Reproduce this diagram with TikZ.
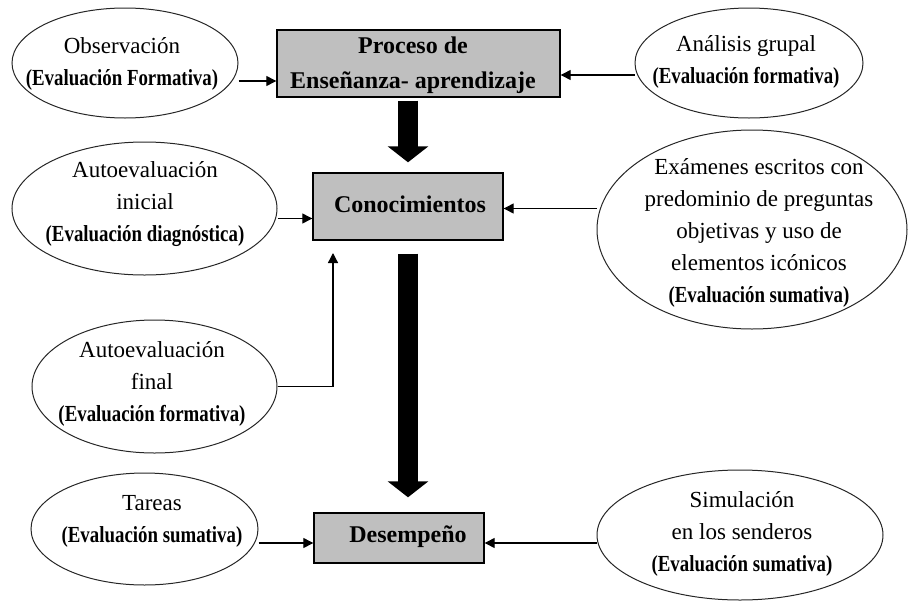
\documentclass[tikz,border=0pt]{standalone}
\usepackage{fontspec}
\usepackage{graphicx}
\setmainfont{Liberation Serif}
\usetikzlibrary{arrows.meta,calc,shapes.geometric}
\newcommand\evl[1]{\scalebox{0.82}[1]{\bfseries #1}}
\begin{document}
\begin{tikzpicture}[x=1pt,y=-1pt,
  ell/.style={draw=black!85, line width=1pt, ellipse, inner sep=0pt},
  boxn/.style={draw=black, line width=1.4pt, fill=gray!50, rectangle, inner sep=0pt},
  txt/.style={align=center, inner sep=0pt, font=\fontsize{23}{32}\selectfont},
  btxt/.style={align=center, inner sep=0pt, font=\fontsize{24}{35}\selectfont\bfseries},
  arr/.style={draw=black, line width=1.3pt, -{Triangle[length=10pt,width=10pt]}},
  fat/.style={draw=black, line width=20pt, -{Triangle[length=16pt,width=40pt]}}]
\useasboundingbox (0,0) rectangle (908,600);
% boxes
\node[boxn, minimum width=283pt, minimum height=67pt] (proc) at (418.5,63.5) {};
\node[boxn, minimum width=190pt, minimum height=67pt] (con) at (408,206.5) {};
\node[boxn, minimum width=170pt, minimum height=50pt] (des) at (399,538) {};
\node[btxt] (proct) at (413,65) {Proceso de\\Enseñanza- aprendizaje};
\node[btxt] (cont) at (410,204) {Conocimientos};
\node[btxt] (dest) at (408,537) {Desempeño};
% ellipses
\node[ell, minimum width=226pt, minimum height=110pt] (obs) at (125,63) {};
\node[ell, minimum width=228pt, minimum height=110pt] (ana) at (749,63) {};
\node[ell, minimum width=265pt, minimum height=133pt] (autini) at (144.5,208.5) {};
\node[ell, minimum width=310pt, minimum height=199pt] (exa) at (752,229.5) {};
\node[ell, minimum width=245pt, minimum height=133pt] (autfin) at (154.5,386.5) {};
\node[ell, minimum width=227pt, minimum height=112pt] (tar) at (144.5,529) {};
\node[ell, minimum width=286pt, minimum height=130pt] (sim) at (740,535) {};
% ellipse texts
\node[txt] (obst) at (122,64) {Observación\\\evl{(Evaluación Formativa)}};
\node[txt] (anat) at (746,61.5) {Análisis grupal\\\evl{(Evaluación formativa)}};
\node[txt] (autinit) at (145,204.5) {Autoevaluación\\inicial\hspace*{30pt}\\\evl{(Evaluación diagnóstica)}};
\node[txt] (exat) at (759,232.5) {Exámenes escritos con\\predominio de preguntas\\objetivas y uso de\\elementos icónicos\\\evl{(Evaluación sumativa)}};
\node[txt] (autfint) at (152,384) {Autoevaluación\\final\\\evl{(Evaluación formativa)}};
\node[txt] (tart) at (152,521) {Tareas\\\evl{(Evaluación sumativa)}};
\node[txt] (simt) at (742,534) {Simulación\\en los senderos\\\evl{(Evaluación sumativa)}};
% thin arrows
\draw[arr] ([yshift=-18pt]obs.east) -- ([yshift=-18pt]obs.east -| proc.west);
\draw[arr] ([yshift=-12pt]ana.west) -- ([yshift=-12pt]ana.west -| proc.east);
\draw[arr] ([yshift=-10pt]autini.east) -- ([yshift=-10pt]autini.east -| con.west);
\draw[arr] ([yshift=21pt]exa.west) -- ([yshift=21pt]exa.west -| con.east);
\draw[arr] ([yshift=-14pt]tar.east) -- ([yshift=-14pt]tar.east -| des.west);
\draw[arr] ([yshift=-8pt]sim.west) -- ([yshift=-8pt]sim.west -| des.east);
\coordinate (elb) at (333,253);
\draw[arr] (autfin.east) -| (elb);
% fat arrows
\draw[fat, shorten <=3pt, shorten >=10pt] (con.north |- proc.south) -- (con.north);
\draw[fat, shorten <=13pt, shorten >=15pt] (con.south) -- (con.south |- des.north);
\end{tikzpicture}
\end{document}
